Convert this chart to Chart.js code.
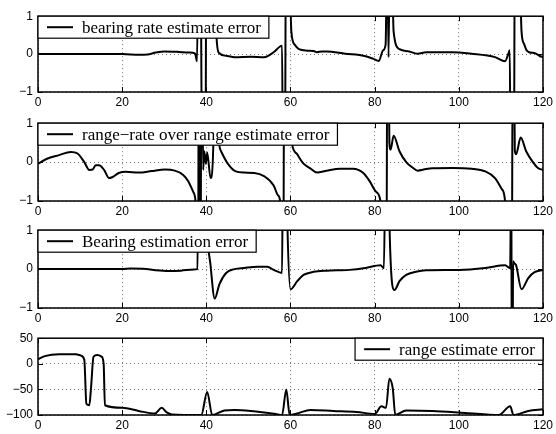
<!DOCTYPE html>
<html>
<head>
<meta charset="utf-8">
<script src="https://cdn.jsdelivr.net/npm/chart.js@4.4.1/dist/chart.umd.min.js"></script>
<style>
  body { margin: 0; background: #fff; width: 556px; height: 434px; position: relative; overflow: hidden; }
  canvas { position: absolute; left: 0; }
</style>
</head>
<body>
<canvas id="p1" width="556" height="107" style="top:4px"></canvas>
<canvas id="p2" width="556" height="107" style="top:111px"></canvas>
<canvas id="p3" width="556" height="107" style="top:218px"></canvas>
<canvas id="p4" width="556" height="107" style="top:326px"></canvas>
<script>
// tick labels
const xTicks = [0, 20, 40, 60, 80, 100, 120];
const unitTicks = [-1, 0, 1];
const rangeTicks = [-100, -50, 0, 50];

// bearing rate estimate error (values past +-1 are clipped by the axes)
const brTime = [0, 10, 20, 24, 26, 28, 30, 33, 36, 37.3, 37.8, 38.1, 38.6, 39.0, 39.8, 40.0, 42.0, 42.4, 43, 45, 46.7, 50.6, 53.7, 56, 57.5, 58.0, 58.2, 58.7, 58.9, 59.6, 60.2, 61, 62, 64, 65.5, 66.3, 67.5, 68.6, 73, 77.6, 79.6, 81, 82, 82.6, 83.0, 83.3, 83.6, 84.0, 84.5, 85.9, 88.2, 90.2, 92.2, 98.4, 103, 108.6, 111, 111.8, 112.1, 112.3, 113.1, 113.3, 114.3, 114.9, 115.5, 116.1, 116.7, 118.2, 119.2, 120];
const brErr = [0, 0, 0, -0.02, -0.01, 0.04, 0.07, 0.06, 0.04, 0.02, -0.19, 3, 3, -3, -3, 3, 3, 0.5, 0.03, -0.05, -0.08, -0.07, -0.08, 0.05, 0.2, 0.22, -3, -3, 3, 3, 0.6, 0.25, 0.13, 0.09, 0.08, 0.05, 0.07, 0.07, 0.01, -0.05, -0.12, -0.18, 0.1, 0.25, 3, -0.08, 3, 3, 0.6, 0.13, 0.07, 0.01, 0.05, 0.05, 0.01, -0.08, -0.19, 0.02, 0.1, -3, -3, 3, 3, 0.6, 0.27, 0.1, 0.05, 0.02, -0.05, -0.08];

// range-rate over range estimate error
const rrTime = [0, 2, 5, 7.8, 9.4, 11, 12.2, 13, 13.7, 14.5, 15.7, 16.9, 17.6, 19.2, 20.8, 24, 27, 30.2, 32.5, 34.5, 35.7, 36.9, 37.5, 37.9, 38.05, 38.2, 38.4, 38.5, 38.65, 38.8, 39.0, 39.25, 39.5, 39.9, 40.2, 41.0, 41.8, 42.0, 42.6, 42.9, 43.5, 45.1, 47, 49, 51.4, 53.7, 56, 57, 57.6, 58.0, 58.3, 58.5, 59.4, 59.9, 60.4, 61.6, 63.1, 64.7, 66.3, 68.6, 71.8, 74.9, 77.3, 78.8, 80.4, 81.4, 82, 82.8, 83.0, 83.3, 83.5, 83.8, 84.5, 85.9, 87.5, 89, 90.2, 92.2, 93.7, 98.4, 103, 106.3, 108.6, 110.2, 111, 111.5, 112.6, 112.8, 113.1, 113.3, 113.6, 114.7, 116, 117.6, 118.8, 120];
const rrErr = [-0.04, 0.08, 0.18, 0.26, 0.22, 0, -0.2, -0.19, -0.08, -0.08, -0.2, -0.41, -0.39, -0.28, -0.25, -0.27, -0.23, -0.19, -0.22, -0.33, -0.49, -0.77, -1.1, -3, -3, 3, 3, -3, -3, 3, 3, -0.2, 0.28, -0.04, 0.25, -0.41, 1.1, 3, 3, 0.7, 0.28, -0.04, -0.24, -0.27, -0.28, -0.36, -0.6, -0.85, -1.05, -3, -3, 3, 3, 1.0, 0.45, 0.2, -0.04, -0.16, -0.27, -0.22, -0.17, -0.17, -0.28, -0.49, -0.77, -1.02, -3, -3, 3, 3, 0.5, 0.32, 0.68, 0.28, 0, -0.14, -0.22, -0.18, -0.16, -0.15, -0.17, -0.24, -0.41, -0.69, -1.02, -3, -3, 3, 3, 0.3, 0.2, 0.63, 0.28, 0, -0.15, -0.2];

// Bearing estimation error
const beTime = [0, 20, 22, 25, 28, 31, 34, 37, 37.9, 38.1, 39.8, 40.2, 41, 42, 43.1, 44.7, 46.7, 49, 52.2, 54.5, 56, 58, 58.2, 59.0, 59.3, 60, 61.6, 63.1, 65.5, 68.6, 74, 77.8, 81.4, 82.2, 82.6, 83.3, 83.6, 84.7, 85.9, 87.5, 89.8, 92.2, 100, 106.3, 111, 112.2, 112.45, 112.6, 112.75, 112.9, 113.2, 113.6, 114.9, 116.5, 118, 120];
const beErr = [0, 0, 0.015, 0.01, -0.03, -0.05, -0.04, -0.01, 0, 3, 3, 1.1, 0.1, -0.76, -0.39, -0.1, 0, 0.03, 0.06, 0.06, -0.02, -0.1, 3, 3, 1.0, -0.52, -0.31, -0.15, -0.07, -0.04, -0.02, 0.03, 0.1, 0.02, 3, 3, 0.8, -0.54, -0.31, -0.15, -0.07, -0.03, -0.02, 0.03, 0.1, 0.02, 3, -3, -3, 0.2, 0.15, 0.1, -0.52, -0.23, -0.08, -0.02];

// range estimate error
const reTime = [0, 1.6, 5.1, 9, 10.2, 11, 11.5, 12.2, 12.6, 13.2, 14.1, 15.1, 15.6, 15.9, 20, 23.9, 27.8, 29.4, 30.6, 31.8, 38.8, 40.2, 41.4, 44.3, 46.7, 50.6, 56.5, 58, 59, 59.8, 61.6, 64.7, 70.2, 75.7, 80, 81.6, 82.7, 83.5, 84.3, 84.9, 87.5, 93.7, 101.6, 109.5, 112.2, 113, 116.5, 120];
const reErr = [9, 15, 18.5, 18.5, 16, 8, -78, -81, -47, 14, 17, 14, 0, -81, -86, -92, -97, -86, -95, -99, -100, -55, -100, -91, -90, -92, -98, -100, -50, -100, -97, -90, -92, -94, -98, -83, -86, -29, -48, -100, -91, -92, -96, -100, -83, -100, -92, -89];

const labels = {
  p1: 'bearing rate estimate error',
  p2: 'range\u2212rate over range estimate error',
  p3: 'Bearing estimation error',
  p4: 'range estimate error'
};

const framePlugin = {
  id: 'frame',
  afterDatasetsDraw(chart, args, opts) {
    const { ctx, chartArea: a, scales: { x, y } } = chart;
    ctx.save();
    // inward ticks on all four sides
    ctx.strokeStyle = '#000';
    ctx.lineWidth = 1;
    ctx.beginPath();
    xTicks.forEach(v => {
      const px = Math.round(x.getPixelForValue(v)) + 0.5;
      ctx.moveTo(px, a.bottom); ctx.lineTo(px, a.bottom - 5);
      ctx.moveTo(px, a.top); ctx.lineTo(px, a.top + 5);
    });
    opts.yTicks.forEach(v => {
      const py = Math.round(y.getPixelForValue(v)) + 0.5;
      ctx.moveTo(a.left, py); ctx.lineTo(a.left + 5, py);
      ctx.moveTo(a.right, py); ctx.lineTo(a.right - 5, py);
    });
    ctx.stroke();
    ctx.lineWidth = 1.5;
    ctx.strokeRect(a.left, a.top, a.right - a.left, a.bottom - a.top);

    // legend box inside the axes
    const text = chart.data.datasets[0].label;
    ctx.font = '17px "Liberation Serif"';
    const tw = ctx.measureText(text).width;
    const w = 44 + tw + 8, h = 22;
    const x0 = opts.side === 'left' ? a.left : a.right - w;
    const y0 = a.top;
    ctx.fillStyle = '#fff';
    ctx.fillRect(x0, y0, w, h);
    ctx.lineWidth = 1.2;
    ctx.strokeRect(x0, y0, w, h);
    ctx.lineWidth = 2;
    ctx.beginPath();
    ctx.moveTo(x0 + 9, y0 + h / 2);
    ctx.lineTo(x0 + 35, y0 + h / 2);
    ctx.stroke();
    ctx.fillStyle = '#000';
    ctx.textBaseline = 'middle';
    ctx.fillText(text, x0 + 44, y0 + h / 2 + 1);
    ctx.restore();
  }
};

function makePanel(id, t, v, yTicks, side, plotH) {
  const canvas = document.getElementById(id);
  const pts = t.map((tt, i) => ({ x: tt, y: v[i] }));
  new Chart(canvas, {
    type: 'line',
    data: {
      datasets: [{
        label: labels[id],
        data: pts,
        borderColor: '#000',
        borderWidth: 2,
        pointRadius: 0,
        cubicInterpolationMode: 'monotone',
        fill: false
      }]
    },
    options: {
      responsive: false,
      animation: false,
      layout: { padding: { top: 8, right: 7, left: 0, bottom: 0 } },
      plugins: {
        legend: { display: false },
        tooltip: { enabled: false },
        frame: { yTicks, side }
      },
      scales: {
        x: {
          type: 'linear',
          min: 0, max: 120,
          afterBuildTicks: s => { s.ticks = xTicks.map(value => ({ value })); },
          afterFit: s => { s.height = canvas.height - 8 - plotH; },
          grid: { color: '#777', lineWidth: 1, drawTicks: false },
          border: { display: false, dash: [1, 3] },
          ticks: { color: '#000', padding: 3, font: { family: 'Liberation Sans', size: 12 } }
        },
        y: {
          min: yTicks[0], max: yTicks[yTicks.length - 1],
          afterBuildTicks: s => { s.ticks = yTicks.map(value => ({ value })); },
          afterFit: s => { s.width = 38; },
          grid: { color: '#777', lineWidth: 1, drawTicks: false },
          border: { display: false, dash: [1, 3] },
          ticks: {
            color: '#000', padding: 5,
            font: { family: 'Liberation Sans', size: 12 },
            callback: val => String(val).replace('-', '\u2212')
          }
        }
      }
    },
    plugins: [framePlugin]
  });
}

makePanel('p1', brTime, brErr, unitTicks, 'left', 80);
makePanel('p2', rrTime, rrErr, unitTicks, 'left', 82);
makePanel('p3', beTime, beErr, unitTicks, 'left', 82);
makePanel('p4', reTime, reErr, rangeTicks, 'right', 81);
</script>
</body>
</html>
